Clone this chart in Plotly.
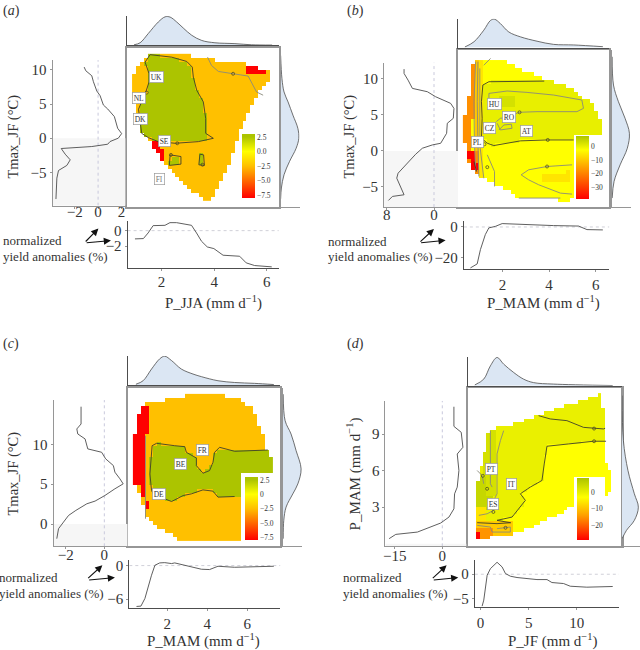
import numpy as np
import plotly.graph_objects as go

# ---------- PANEL A: Tmax_JF vs P_JJA ----------
A_TOP_X = [0.95,1.18,1.49,1.87,2.13,2.32,2.57,2.82,3.14,3.52,4.02,4.78,5.41,6.19]
A_TOP_D = [.02,.09,.41,.81,.99,.98,.81,.6,.35,.17,.09,.06,.02,.01]
A_RIGHT_Y = [12.17,8.76,6.81,5.35,3.40,1.45,-0.01,-1.47,-3.42,-5.37,-7.32,-8.93]
A_RIGHT_D = [0,.07,.18,.39,.65,.91,.96,.82,.47,.18,.04,0]
A_LEFT_X = [-1.19,-1.05,-.54,-.40,-.11,.17,.45,.82,1.39,1.67,2.01,1.73,1.02,.82,-.54,-3.15,-2.81,-2.38,-2.67,-3.38,-3.52,-3.60]
A_LEFT_Y = [10.42,9.88,9.15,8.27,6.91,6.23,4.86,4.28,3.16,1.45,.67,0,-.5,-.89,-1.23,-1.52,-2.35,-3.18,-4.0,-4.74,-5.86,-8.93]
A_BOT_X = [.99,1.31,1.49,1.68,2.13,2.32,2.57,2.82,3.14,3.33,3.52,3.74,3.99,4.34,4.78,4.97,5.22,5.54,6.19]
A_BOT_Y = [-1.06,-1.02,-.30,.64,.68,1.02,1.02,.85,.68,-.30,-1.36,-2.09,-2.30,-3.15,-3.28,-3.28,-4.13,-4.47,-4.64]
A_HULL = [(1.56,12.17),(3.07,12.17),(3.20,11.93),(5.22,10.95),(6.17,9.64),(6.04,8.52),(5.60,6.08),(5.35,3.89),(5.03,1.45),(4.65,-2.94),(4.27,-5.86),(3.89,-8.93),(3.64,-8.93),(3.14,-7.81),(2.63,-5.86),(2.13,-4.16),(1.68,-1.47),(1.49,-.25),(1.18,.72),(1.05,4.38),(.95,6.08),(.95,9.74),(1.24,11.2)]
A_GREEN = [(1.56,12.3),(2.38,11.93),(2.95,11.30),(3.16,10.47),(3.20,9.0),(3.33,7.06),(3.58,5.35),(3.67,2.91),(3.67,.72),(3.96,-.01),(3.39,-.50),(2.51,-.74),(1.87,-.50),(1.49,.09),(1.24,.72),(1.12,4.28),(1.39,6.72),(1.52,8.27),(1.52,9.49),(1.37,11.2)]
A_GREEN2 = [(2.32,-2.45),(2.73,-2.69),(2.73,-3.81),(2.29,-4.0)]
A_GREEN3 = [(3.45,-2.35),(3.59,-2.45),(3.62,-4.0),(3.41,-3.91)]
A_RED1 = [(1.58,-.64),(1.87,-.64),(2.13,-2.45),(2.13,-4.16),(1.97,-3.67),(1.71,-2.45),(1.68,-1.47),(1.58,-1.47)]
A_RED2 = [(5.25,10.95),(5.66,10.37),(5.98,9.98),(5.98,9.59),(5.25,9.59)]
A_GREY = [(3.74,11.93),(3.89,10.71),(4.15,9.83),(4.71,9.49),(5.28,9.15),(5.60,6.81),(5.85,6.33)]
A_MARK = [(1.43,6.72),(2.59,-.74),(4.71,9.49),(2.35,-2.45),(3.55,-3.9)]
A_LABELS = [("UK",1.81,8.96),("NL",1.12,5.94),("DK",1.20,2.87),("SE",2.09,-.45),("FI",1.90,-6.0)]

# ---------- PANEL B: Tmax_JF vs P_MAM ----------
B_TOP_X = [.39,.78,1.20,1.49,1.66,1.91,2.27,2.77,3.48,4.19,5.05,6.30]
B_TOP_D = [.02,.2,.6,.94,.98,.83,.54,.37,.22,.11,.09,.03]
B_RIGHT_Y = [13.08,9.15,6.84,4.53,2.45,.37,-1.94,-4.25,-6.56]
B_RIGHT_D = [.02,.09,.35,.70,.93,.82,.44,.12,.02]
B_LEFT_X = [-5.07,-5.07,-4.39,-3.66,-1.13,.28,2.82,3.38,3.27,2.25,2.14,1.13,-.28,-1.97,-3.10,-4.23,-6.08,-6.31,-5.35,-5.07,-7.04,-7.72]
B_LEFT_Y = [11.37,10.77,9.84,8.69,8.23,7.53,6.61,5.91,4.53,3.84,2.45,1.06,.83,.37,-.46,-1.48,-3.10,-3.79,-5.64,-6.10,-6.33,-6.89]
B_BOT_X = [.63,.92,1.06,1.27,1.42,1.70,1.99,2.77,3.48,4.19,5.26,5.62,6.30]
B_BOT_Y = [-26.5,-23.9,-14.6,-4.9,-.6,.4,2.2,1.7,1.1,.9,.6,-1.7,-1.9]
B_HULL = [(.85,12.48),(1.20,12.85),(1.91,12.85),(2.63,11.69),(3.91,9.84),(5.05,8.69),(5.90,6.15),(6.11,4.76),(6.33,3.60),(6.33,2.08),(5.05,2.08),(5.05,-6.89),(4.48,-6.93),(2.70,-6.56),(1.77,-4.94),(1.20,-4.02),(.78,-2.87),(.49,-1.02),(.39,.83),(.39,4.76),(.53,6.84),(.63,9.84),(.75,12.38)]
B_ZERO_UP = [(3.79,9.70),(1.42,9.61),(1.16,9.15),(1.10,6.84),(1.13,4.53),(1.10,1.76),(1.35,1.06),(1.63,.74),(2.77,1.39),(3.91,1.52),(5.05,1.52)]
B_BAND_EDGE = [(6.33,1.76),(6.33,3.6),(5.9,6.15),(5.05,8.69),(3.91,9.84)]
B_DARK = [(1.84,7.67),(2.46,7.67),(2.46,5.91),(1.84,5.91)]
B_ORANGE = [(.3,14),(.78,14),(.78,4.5),(.66,4.5),(.66,-.3),(.95,-.3),(.95,-5),(.3,-5)]
B_GOLD = [(.78,14),(.97,14),(.97,-5),(.78,-5)]
B_LIGHT = [(.97,14),(1.13,14),(1.13,-5.5),(.97,-5.5)]
B_RED = [(.49,-.18),(.85,-.18),(.92,-2.63),(.70,-2.63)]
B_PATCH = [(3.69,-3.33),(4.98,-2.96),(4.98,-4.16),(3.69,-4.16)]
B_GREYS = [
    [(1.42,7.30),(1.42,7.99),(2.2,8.32),(3.05,8.13),(4.19,7.76),(5.40,7.07),(5.47,5.91),(5.19,5.45),(3.48,5.45),(2.70,5.36),(2.34,4.76),(1.91,4.53),(1.74,4.07)],
    [(1.77,3.84),(1.91,2.91),(2.41,3.14),(2.38,3.70),(2.06,3.6),(1.85,2.91)],
    [(4.98,-1.94),(3.91,-2.17),(3.12,-2.63),(2.80,-3.33),(3.12,-4.02),(3.55,-4.71),(4.48,-5.87),(4.98,-6.01)],
    [(2.70,-6.56),(4.48,-6.56)],
    [(.85,12.4),(.78,6.84),(.8,.83),(.86,-2.87)],
    [(.95,12.4),(.92,6.84),(.95,.83),(.99,-3.56)],
    [(1.03,11.46),(1.03,.83),(1.2,-3.8)],
    [(1.2,11.9),(1.49,12.85)],
    [(1.35,-.55),(1.66,-2.87),(1.66,-4.94)],
]
B_DARKLINE = [(.78,-1.48),(.89,-2.87)]
B_MARK = [(2.73,5.36),(3.94,1.52),(3.91,-2.17),(1.35,-2.26),(1.23,.92)]
B_LABELS = [("HU",1.64,6.52),("RO",2.28,4.76),("CZ",1.46,3.23),("AT",3.01,2.77),("PL",.92,1.20)]

# ---------- PANEL C: Tmax_JF vs P_MAM ----------
C_TOP_X = [.44,.80,1.22,1.63,1.88,2.22,2.71,3.29,3.71,4.54,5.37,6.37,7.33]
C_TOP_D = [.03,.15,.55,.9,.99,.84,.55,.38,.29,.15,.09,.06,.02]
C_RIGHT_Y = [16.29,12.96,11.29,9.21,6.92,5.04,3.79,2.13,.46,-1.83]
C_RIGHT_D = [.02,.12,.43,.69,.95,.78,.52,.17,.05,.02]
C_LEFT_X = [-1.21,-1.21,-1.43,-1.38,-1.0,-.86,-.14,.07,.47,.55,.81,.98,.55,.03,-.48,-.91,-1.48,-1.86,-2.12,-2.38,-2.47]
C_LEFT_Y = [14.71,12.54,11.92,11.29,10.67,9.42,9.0,8.17,7.33,6.5,5.67,5.04,4.42,3.58,2.88,2.54,1.71,1.08,.25,-.58,-1.83]
C_BOT_X = [.47,.69,.89,1.05,1.22,1.39,1.63,1.88,2.22,2.38,3.05,3.71,4.12,4.54,5.37,7.33]
C_BOT_Y = [-7.31,-7.25,-5.88,-3.80,-1.72,.06,.48,.53,.36,.48,-.12,-.65,-.71,-.12,-.30,-.12]
C_HULL = [(.64,14.42),(1.05,15.33),(2.22,15.67),(3.05,16.21),(4.62,16.21),(5.78,15.46),(6.28,14.42),(6.53,12.96),(6.78,11.29),(6.95,9.42),(7.20,8.38),(7.20,6.21),(5.65,6.21),(5.65,-1.92),(2.46,-1.92),(1.88,-.79),(1.22,.04),(.97,.67),(.64,3.79),(.39,5.04),(.39,11.29),(.52,13.38)]
C_RED = [(.69,14.71),(1.0,14.71),(1.0,11.29),(.89,10.88),(.89,4.83),(1.0,2.75),(1.0,1.5),(.89,2.54),(.64,4.63),(.39,4.83),(.39,11.29),(.52,13.38)]
C_ZERO_TOP = [(1.25,9.83),(1.47,10.13),(2.38,9.83),(2.88,9.71),(2.96,9.0),(3.46,8.29),(3.46,7.33),(3.79,6.38),(4.12,6.71),(4.29,7.75),(4.37,9.0),(4.62,9.63),(5.37,9.13),(7.03,9.29)]
C_ZERO_BOT = [(5.37,3.46),(4.54,3.38),(4.29,4.13),(3.79,4.29),(3.21,3.79),(2.80,3.58),(2.22,2.83),(1.88,3.17),(1.39,3.38),(1.22,4.21),(1.14,6.29),(1.19,8.38),(1.25,9.83)]
C_GREEN_EDGE = [(7.2,9.29),(7.2,6.21),(5.65,6.21),(5.65,3.38)]
C_GREY = [(.92,11.08),(.92,.67)]
C_LABELS = [("FR",3.76,9.33),("BE",2.66,7.5),("DE",1.59,3.75)]

# ---------- PANEL D: P_MAM vs P_JF ----------
D_TOP_X = [-.59,.34,1.03,1.72,2.41,3.45,4.48,5.52,7.59,13.72]
D_TOP_D = [.03,.23,.69,.98,.75,.46,.23,.11,.06,.01]
D_RIGHT_Y = [12.14,8.45,6,4.09,2.99,1.91,1.09,.41]
D_RIGHT_D = [.02,.09,.34,.69,.91,.69,.26,.02]
D_LEFT_X = [3.67,3.67,5.98,6.51,4.72,5.25,4.72,3.88,3.67,2.10,-.52,-6.82,-7.87,-14.69,-16.79]
D_LEFT_Y = [11.24,9.63,9.14,7.91,7.36,6.0,4.64,4.09,2.86,2.18,1.69,1.09,.95,.76,.41]
D_BOT_X = [.17,.34,.69,1.03,1.72,2.24,2.59,3.10,3.79,4.83,5.86,6.90,7.41,8.62,9.31,11.03,13.72]
D_BOT_Y = [-6.58,-5.34,-.21,1.16,2.47,1.51,.14,-.41,-.68,-.89,-1.10,-1.10,-1.71,-1.92,-2.47,-2.67,-2.53]
D_HULL = [(-.52,3.0),(-.34,4.91),(.34,7.09),(.86,9.27),(1.72,9.54),(4.14,9.95),(6.21,10.64),(8.28,11.18),(10.69,11.73),(12.24,12.22),(12.59,12.22),(12.59,11.13),(12.93,11.13),(13.03,6.54),(13.72,5.86),(13.72,4.36),(12.76,3.95),(12.76,5.51),(9.72,5.51),(9.72,3.27),(8.28,2.45),(6.03,1.64),(4.14,.95),(3.28,.76),(-.34,.33),(-.62,1.09)]
D_ZERO_LOW = [(13.03,8.4),(11.72,8.4),(9.14,8.18),(6.9,7.99),(6.62,6.54),(6.38,5.18),(5.17,4.64),(4.14,4.09),(4.66,3.55),(4.14,3.0),(3.28,2.18),(1.72,1.91),(3.10,1.72)]
D_BAND_EDGE = [(-1,1.72),(-1,13),(13.03,13)]
D_ZERO_UP = [(6.03,10.5),(7.24,10.23),(8.97,10.09),(10.69,9.54),(12.76,9.41),(12.93,9.46)]
D_ZERO_BASE = [(-.34,1.72),(1.72,1.64),(3.17,1.72)]
D_STRIP1 = [(.69,9.27),(1.72,9.54),(1.72,4.36),(1.38,3.82),(.69,3.82)]
D_STRIP2 = [(.2,9),(.69,9),(.69,3.82),(.2,3.82)]
D_STRIP3 = [(-.34,5.45),(.52,5.45),(.52,4.09),(1.38,4.09),(1.38,2.73),(-.34,2.73)]
D_GOLD = [(-.62,3),(.69,3),(.69,1.77),(-.62,1.77)]
D_ORANGE1 = [(-1,1.77),(3.4,1.77),(3.4,0),(-1,0)]
D_ORANGE2 = [(-1,1.4),(1.4,1.4),(1.4,0),(-1,0)]
D_RED = [(-.62,.95),(-.17,.95),(-.17,.2),(-.62,.2)]
D_GREYS = [
    [(1.03,9.27),(1.03,4.91),(1.21,4.64)],
    [(2.41,9.27),(2.07,8.45),(1.72,7.36),(1.72,5.18),(1.72,4.09),(1.38,3.55),(1.38,2.73),(.69,2.45),(-.17,2.32)],
    [(.34,4.91),(.17,5.59),(-.34,6)],
    [(-.34,1.5),(1.03,1.36),(1.21,.95),(3.10,.95),(3.10,1.36),(1.72,1.23)],
]
D_MARK = [(11.79,9.44),(11.79,8.4),(.24,5.56),(.69,4.5),(1.34,2.6),(2.6,1.3)]
D_LABELS = [("PT",1.10,6.14),("IT",3.24,4.91),("ES",1.34,3.27)]

COLORBAR_AC_TICKS = [2.5,0,-2.5,-5,-7.5]

PXW, PXH = 640, 650
SERIF = "'Liberation Serif', 'Times New Roman', serif"
DARK = "#4d4d4d"
FRAME = "#969696"
FILL = "#dbe6f3"

def dx(l, r): return [max(l, 0)/PXW, min(r, PXW)/PXW]
def dy(t, b): return [1-b/PXH, 1-t/PXH]

def inside(poly, X, Y):
    p = np.array(poly, float)
    res = np.zeros(X.shape, bool)
    n = len(p)
    for i in range(n):
        x1, y1 = p[i]; x2, y2 = p[(i+1) % n]
        if y1 == y2:
            continue
        cross = ((y1 > Y) != (y2 > Y)) & (X < (x2-x1)*(Y-y1)/(y2-y1)+x1)
        res ^= cross
    return res

def raster(hull, base, zones, xs, ys):
    X, Y = np.meshgrid(xs, ys)
    mask = inside(hull, X, Y)
    z = np.where(mask, float(base), np.nan)
    for poly, v in zones:
        z[inside(poly, X, Y) & mask] = v
    return z

GREEN = "#acc400"
SCALE_AC = [[0,"#ff0000"],[.5,"#ffc000"],[.727,"#ffff00"],[.955,GREEN],[1,GREEN]]
SCALE_B = [[0,"#ff0000"],[.5,"#ffa000"],[.78,"#ffff00"],[1,GREEN]]
SCALE_D = [[0,"#ff0000"],[.4,"#ffa000"],[.69,"#ffff00"],[1,GREEN]]

panels = [
 dict(tag="a", main_x=(125.5,278), main_y=(46,205.5), xr=(.687,6.457), yr=(-10.1,13.30),
      top_y=(14,43.5), top_r=1.02, right_x=(279.5,298.5),
      left_x=(50.7,124), left_y=(58.3,204.3), lxr=(-3.89,2.35), lyr=(-9.9,11.44),
      lxt=[-2,0,2], lxl=None, lyt=[-5,0,5,10], lstand=-10, bstand=-2,
      bot_x=(126,277.7), bot_y=(219.3,266.7), bxr=(.71,6.46), byr=(-4.77,1.28), bxt=[2,4,6], byt=[-2,0],
      top=(A_TOP_X,A_TOP_D), right=(A_RIGHT_D,A_RIGHT_Y), left=(A_LEFT_X,A_LEFT_Y), bot=(A_BOT_X,A_BOT_Y),
      grid=(.95,6.3,.15,-8.93,12.3,.585), hull=A_HULL, base=-2.5,
      zones=[(A_GREEN,2.5),(A_GREEN2,2.5),(A_GREEN3,2.5),(A_RED1,-8),(A_RED2,-8)],
      scale=SCALE_AC, zr=(-8,3), cbt=COLORBAR_AC_TICKS, cbl=["2.5","0.0","−2.5","−5.0","−7.5"],
      cb=(241,254,132.3,196.7),
      dark=[A_GREEN+A_GREEN[:1],A_GREEN2+A_GREEN2[:1],A_GREEN3+A_GREEN3[:1]], grey=[A_GREY], mark=A_MARK, labels=A_LABELS,
      xtitle="P_JJA (mm d<sup>−1</sup>)", xtitle_at=(212,301), ytitle="Tmax_JF (°C)", ytitle_at=(12,135), ysize=14.5,
      tag_at=(-1,9), note_x=-1, note_y=(239,255), arrow=((82.5,241.7,96.7,227.3),(83.5,241.7,109.3,239.3))),
 dict(tag="b", main_x=(457.7,609.3), main_y=(48.3,205.7), xr=(.107,6.58), yr=(-7.81,14.0),
      top_y=(16.7,45.7), top_r=1.0, right_x=(611.7,630.7),
      left_x=(383.3,457.7), left_y=(60.7,205.7), lxr=(-8.45,4.11), lyr=(-7.81,12.29),
      lxt=[-8,0], lxl=["8","0"], lyt=[-5,0,5,10], lstand=-8, bstand=0,
      bot_x=(463.3,609.3), bot_y=(220,268.3), bxr=(.35,6.58), byr=(-27.5,3.66), bxt=[2,4,6], byt=[-20,0],
      top=(B_TOP_X,B_TOP_D), right=(B_RIGHT_D,B_RIGHT_Y), left=(B_LEFT_X,B_LEFT_Y), bot=(B_BOT_X,B_BOT_Y),
      grid=(.39,6.4,.17,-6.9,12.9,.55), hull=B_HULL, base=-2.4,
      zones=[(B_ZERO_UP+B_BAND_EDGE,.5),(B_DARK,3),(B_PATCH,-6),(B_LIGHT,-6),(B_GOLD,-10),(B_ORANGE,-18),(B_RED,-39)],
      scale=SCALE_B, zr=(-39,8), cbt=[0,-10,-20,-30], cbl=None, cb=(576,589,135,197.7),
      dark=[B_ZERO_UP,B_DARKLINE], grey=B_GREYS, mark=B_MARK, labels=B_LABELS,
      xtitle="P_MAM (mm d<sup>−1</sup>)", xtitle_at=(543,301), ytitle="Tmax_JF (°C)", ytitle_at=(349,135), ysize=14.5,
      tag_at=(344,9), note_x=325, note_y=(240,255), arrow=((418.3,241.7,433.3,227.7),(419,241.7,445,239))),
 dict(tag="c", main_x=(126.7,279.3), main_y=(386.7,546), xr=(.06,7.66), yr=(-2.79,17.13),
      top_y=(355,384.3), top_r=1.0, right_x=(281.7,301),
      left_x=(51.7,126), left_y=(399.3,546), lxr=(-2.64,1.21), lyr=(-2.79,15.54),
      lxt=[-2,0], lxl=None, lyt=[0,5,10], lstand=-7, bstand=0,
      bot_x=(127.7,279.3), bot_y=(560,608.3), bxr=(.11,7.66), byr=(-7.66,.95), bxt=[2,4,6], byt=[-6,0],
      top=(C_TOP_X,C_TOP_D), right=(C_RIGHT_D,C_RIGHT_Y), left=(C_LEFT_X,C_LEFT_Y), bot=(C_BOT_X,C_BOT_Y),
      grid=(.39,7.3,.2,-1.92,16.3,.5), hull=C_HULL, base=-2.5,
      zones=[(C_ZERO_TOP+C_GREEN_EDGE+C_ZERO_BOT,2.5),(C_RED,-8)],
      scale=SCALE_AC, zr=(-8,3), cbt=COLORBAR_AC_TICKS, cbl=["2.5","0","−2.5","−5.0","−7.5"],
      cb=(243.3,256,476.7,540),
      dark=[C_ZERO_TOP,C_ZERO_BOT], grey=[C_GREY], mark=[], labels=C_LABELS,
      xtitle="P_MAM (mm d<sup>−1</sup>)", xtitle_at=(202,640), ytitle="Tmax_JF (°C)", ytitle_at=(12,473), ysize=14.5,
      tag_at=(-1,343), note_x=-5, note_y=(577,593), arrow=((85,579.3,100.7,565),(86,580,113.3,577.3))),
 dict(tag="d", main_x=(467,621.7), main_y=(387.3,546), xr=(-1.34,14.66), yr=(-.22,12.76),
      top_y=(356,385), top_r=1.0, right_x=(621.7,640),
      left_x=(384.7,466), left_y=(400,546), lxr=(-17.94,7.66), lyr=(-.22,11.73),
      lxt=[-15,0], lxl=None, lyt=[3,6,9], lstand=-6, bstand=0,
      bot_x=(474.3,619), bot_y=(560,607.3), bxr=(-.59,14.38), byr=(-6.85,2.88), bxt=[0,5,10], byt=[-5,0],
      top=(D_TOP_X,D_TOP_D), right=(D_RIGHT_D,D_RIGHT_Y), left=(D_LEFT_X,D_LEFT_Y), bot=(D_BOT_X,D_BOT_Y),
      grid=(-.62,13.8,.35,.2,12.3,.3), hull=D_HULL, base=-3,
      zones=[(D_ZERO_LOW+D_BAND_EDGE,0),(D_STRIP2,3),(D_STRIP1,3),(D_STRIP3,5),(D_GOLD,-6),(D_ORANGE1,-9),(D_ORANGE2,-15),(D_RED,-28.9)],
      scale=SCALE_D, zr=(-28.9,8.7), cbt=[0,-10,-20], cbl=None, cb=(576.7,588.7,477.3,539.3),
      dark=[D_ZERO_LOW,D_ZERO_UP,D_ZERO_BASE], grey=D_GREYS, mark=D_MARK, labels=D_LABELS,
      xtitle="P_JF (mm d<sup>−1</sup>)", xtitle_at=(552.7,640), ytitle="P_MAM (mm d<sup>−1</sup>)", ytitle_at=(353,473), ysize=15,
      tag_at=(344,343), note_x=340, note_y=(577,593), arrow=((430.7,579.3,446,565),(431.7,580,457.7,577.3))),
]

fig = go.Figure()
layout = dict(width=PXW, height=PXH, margin=dict(l=0,r=0,t=0,b=0), showlegend=False,
              paper_bgcolor="white", plot_bgcolor="white",
              font=dict(family=SERIF, color="#333333"), hovermode=False)
shapes, annots = [], []

def axis(domain, rng, **kw):
    d = dict(domain=domain, range=list(rng), showgrid=False, zeroline=False, showticklabels=False,
             ticks="", showline=False, layer="above traces")
    d.update(kw)
    return d

TICKFONT = dict(family=SERIF, size=15, color="#333333")
n = 0
for p in panels:
    ids = [n+1, n+2, n+3, n+4, n+5]
    n += 5
    m, t, r, l, b = ids
    def nm(i): return "" if i == 1 else str(i)
    ax_m, ay_m = f"x{nm(m)}", f"y{nm(m)}"
    ax_t, ay_t = f"x{nm(t)}", f"y{nm(t)}"
    ax_r, ay_r = f"x{nm(r)}", f"y{nm(r)}"
    ax_l, ay_l = f"x{nm(l)}", f"y{nm(l)}"
    ax_b, ay_b = f"x{nm(b)}", f"y{nm(b)}"
    frame = dict(showline=True, linecolor=FRAME, linewidth=1.6, mirror=True)
    layout[f"xaxis{nm(m)}"] = axis(dx(*p["main_x"]), p["xr"], anchor=ay_m, **frame)
    layout[f"yaxis{nm(m)}"] = axis(dy(*p["main_y"]), p["yr"], anchor=ax_m, **frame)
    line = dict(showline=True, linecolor=DARK, linewidth=1)
    layout[f"xaxis{nm(t)}"] = axis(dx(*p["main_x"]), p["xr"], anchor=ay_t, **line)
    layout[f"yaxis{nm(t)}"] = axis(dy(*p["top_y"]), (0, p["top_r"]), anchor=ax_t, **line)
    grey = dict(showline=True, linecolor=FRAME, linewidth=1)
    layout[f"xaxis{nm(r)}"] = axis(dx(*p["right_x"]), (0,1), anchor=ay_r, **grey)
    layout[f"yaxis{nm(r)}"] = axis(dy(*p["main_y"]), p["yr"], anchor=ax_r, **grey)
    tick = dict(showticklabels=True, tickfont=TICKFONT, ticks="outside", ticklen=2, tickcolor=FRAME, tickwidth=.7)
    xt = dict(tickvals=p["lxt"], ticklabelstandoff=p["lstand"])
    if p["lxl"]:
        xt["ticktext"] = p["lxl"]
    layout[f"xaxis{nm(l)}"] = axis(dx(*p["left_x"]), p["lxr"], anchor=ay_l, **grey, **tick, **xt)
    layout[f"yaxis{nm(l)}"] = axis(dy(*p["left_y"]), p["lyr"], anchor=ax_l, **grey, **tick, tickvals=p["lyt"])
    layout[f"xaxis{nm(b)}"] = axis(dx(*p["bot_x"]), p["bxr"], anchor=ay_b, **line, **tick, tickvals=p["bxt"], ticklabelstandoff=p["bstand"])
    layout[f"yaxis{nm(b)}"] = axis(dy(*p["bot_y"]), p["byr"], anchor=ax_b, **line, **tick, tickvals=p["byt"])

    x0, x1, sx, y0, y1, sy = p["grid"]
    xs, ys = np.arange(x0, x1, sx), np.arange(y0, y1, sy)
    z = raster(p["hull"], p["base"], p["zones"], xs, ys)
    c = p["cb"]
    cbar = dict(x=c[0]/PXW, xanchor="left", y=1-c[3]/PXH, yanchor="bottom",
                lenmode="pixels", len=c[3]-c[2], thicknessmode="pixels", thickness=c[1]-c[0],
                xpad=0, ypad=0, outlinewidth=0, ticks="", ticklen=1,
                tickvals=p["cbt"], tickfont=dict(family=SERIF, size=7.5, color="#333333"))
    if p["cbl"]:
        cbar["ticktext"] = p["cbl"]
    fig.add_trace(go.Heatmap(x=xs, y=ys, z=z, zmin=p["zr"][0], zmax=p["zr"][1], colorscale=p["scale"],
                             colorbar=cbar, hoverinfo="skip", xaxis=ax_m, yaxis=ay_m, hoverongaps=False))
    for g in p["grey"]:
        g = np.array(g)
        fig.add_trace(go.Scatter(x=g[:,0], y=g[:,1], mode="lines", line=dict(color="#8a8a7a", width=.9), xaxis=ax_m, yaxis=ay_m))
    for g in p["dark"]:
        g = np.array(g)
        fig.add_trace(go.Scatter(x=g[:,0], y=g[:,1], mode="lines", line=dict(color="#3f3f2a", width=.9), xaxis=ax_m, yaxis=ay_m))
    if p["mark"]:
        g = np.array(p["mark"])
        fig.add_trace(go.Scatter(x=g[:,0], y=g[:,1], mode="markers",
                                 marker=dict(symbol="circle-open", size=3, color="#3f3f2a", line=dict(width=.7)),
                                 xaxis=ax_m, yaxis=ay_m))
    fig.add_trace(go.Scatter(x=p["top"][0], y=p["top"][1], mode="lines", fill="tozeroy", fillcolor=FILL,
                             line=dict(color=DARK, width=.8, shape="spline"), xaxis=ax_t, yaxis=ay_t))
    fig.add_trace(go.Scatter(x=p["right"][0], y=p["right"][1], mode="lines", fill="tozerox", fillcolor=FILL,
                             line=dict(color=DARK, width=.8, shape="spline"), xaxis=ax_r, yaxis=ay_r))
    shapes.append(dict(type="rect", xref=ax_l, yref=ay_l, x0=p["lxr"][0], x1=p["lxr"][1], y0=p["lyr"][0], y1=0,
                       fillcolor="#f6f6f6", line=dict(width=0), layer="below"))
    shapes.append(dict(type="line", xref=ax_l, yref=ay_l, x0=0, x1=0, y0=p["lyr"][0], y1=p["lyr"][1],
                       line=dict(color="#c9c9dc", width=1, dash="3px,3px"), layer="below"))
    shapes.append(dict(type="line", xref=ax_b, yref=ay_b, x0=p["bxr"][0], x1=p["bxr"][1], y0=0, y1=0,
                       line=dict(color="#d0d0d8", width=1, dash="3px,3px"), layer="below"))
    fig.add_trace(go.Scatter(x=p["left"][0], y=p["left"][1], mode="lines", line=dict(color=DARK, width=.9), xaxis=ax_l, yaxis=ay_l))
    fig.add_trace(go.Scatter(x=p["bot"][0], y=p["bot"][1], mode="lines", line=dict(color=DARK, width=.9), xaxis=ax_b, yaxis=ay_b))
    for name, lx, ly in p["labels"]:
        faint = name == "FI"
        annots.append(dict(x=lx, y=ly, xref=ax_m, yref=ay_m, text=name, showarrow=False, bgcolor="white",
                           bordercolor="#999999", borderwidth=.7, borderpad=1,
                           font=dict(family=SERIF, size=7.5, color="#777777" if faint else "#333333")))
    def paper(ax, ay, xanchor="center", **kw):
        annots.append(dict(x=ax/PXW, y=1-ay/PXH, xref="paper", yref="paper", showarrow=False,
                           xanchor=xanchor, yanchor="middle", **kw))
    paper(*p["xtitle_at"], text=p["xtitle"], font=dict(family=SERIF, size=15, color="#333333"))
    paper(*p["ytitle_at"], text=p["ytitle"], textangle=-90, font=dict(family=SERIF, size=p["ysize"], color="#333333"))
    paper(*p["tag_at"], text=f"(<i>{p['tag']}</i>)", xanchor="left", font=dict(family=SERIF, size=14, color="#333333"))
    paper(p["note_x"], p["note_y"][0], text="normalized", xanchor="left", font=dict(family=SERIF, size=13, color="#333333"))
    paper(p["note_x"], p["note_y"][1], text="yield anomalies (%)", xanchor="left", font=dict(family=SERIF, size=13, color="#333333"))
    for tx, ty, hx, hy in p["arrow"]:
        annots.append(dict(x=hx/PXW, y=1-hy/PXH, xref="paper", yref="paper", ax=tx-hx, ay=ty-hy,
                           axref="pixel", ayref="pixel", text="", showarrow=True,
                           arrowhead=2, arrowsize=1.3, arrowwidth=1.1, arrowcolor="#111111"))

layout["shapes"] = shapes
layout["annotations"] = annots
fig.update_layout(**layout)
fig.write_html("out.html", config=dict(displayModeBar=False), post_script="document.body.style.margin='0';")
